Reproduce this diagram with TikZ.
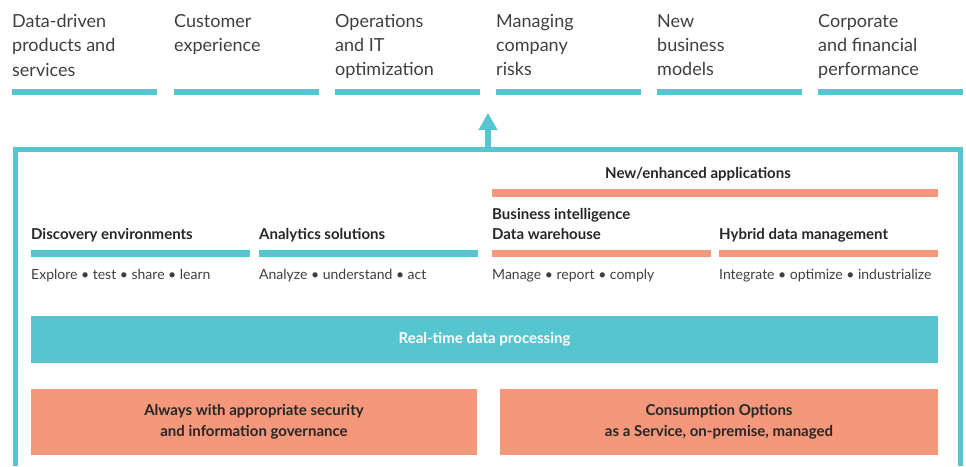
\documentclass[tikz,border=0pt]{standalone}
\usepackage{fontspec}
\setmainfont{Lato}
\usepackage{xcolor}
\usepackage{tikz}
\usetikzlibrary{arrows.meta}
\usetikzlibrary{positioning}

\definecolor{hpeteal}{HTML}{55C5D0}
\definecolor{hpesalmon}{HTML}{F5977A}
\definecolor{hpetext}{HTML}{3F3F3F}

\begin{document}
\begin{tikzpicture}[x=1pt,y=-1pt,
    toplabel/.style={anchor=north west, inner sep=0pt, align=left, text=hpetext, font=\fontsize{18}{24.3}\selectfont},
    head/.style={anchor=base west, inner sep=0pt, text=black!85, font=\fontsize{15}{20}\selectfont\bfseries},
    verbs/.style={anchor=base west, inner sep=0pt, text=hpetext, font=\fontsize{14}{20}\selectfont},
    layer/.style={inner sep=0pt, outer sep=0pt, align=center, font=\fontsize{15}{21}\selectfont\bfseries}]
    \path[use as bounding box] (0,0) rectangle (966,466);
    % business outcomes along the top
    \foreach \x/\name/\txt in {12/dpro/{Data-driven\\products and\\services}, 174/cexp/{Customer\\experience}, 335/opit/{Operations\\and IT\\optimization}, 496/risk/{Managing\\company\\risks}, 657/newbm/{New\\business\\models}, 818/corp/{Corporate\\and financial\\performance}}
    {
        \node[toplabel] (\name) at (\x,14) {\txt};
        \fill[hpeteal] (\x,89) rectangle ++(145,6);
    }
    % frame and arrow up
    \draw[hpeteal, line width=5pt] (15.5,466) -- (15.5,149) -- (960,149) -- (960,466);
    \coordinate (arrowbase) at (488,149);
    \coordinate (arrowtip) at (488,113);
    \draw[hpeteal, line width=6pt, -{Triangle[width=18pt,length=17pt]}] (arrowbase) -- (arrowtip);
    % applications
    \node[head, anchor=base] (newapp) at (698,178) {New/enhanced applications};
    \fill[hpesalmon] (492,189) rectangle (938,196.5);
    \node[head] (bi) at (492,219) {Business intelligence};
    \foreach \x/\col/\name/\title/\what in {31/hpeteal/disc/{Discovery environments}/{Explore • test • share • learn}, 259/hpeteal/anly/{Analytics solutions}/{Analyze • understand • act}, 492/hpesalmon/dwh/{Data warehouse}/{Manage • report • comply}, 719/hpesalmon/hybr/{Hybrid data management}/{Integrate • optimize • industrialize}}
    {
        \node[head] (\name) at (\x,239) {\title};
        \fill[\col] (\x,249.5) rectangle ++(218.5,7.5);
        \node[verbs] (\name-v) at (\x,279) {\what};
    }
    % platform layers
    \node[layer, fill=hpeteal, text=white, minimum width=907pt, minimum height=47pt] (rtdp) at (484.5,339.5) {Real-time data processing};
    \node[layer, fill=hpesalmon, text=black!85, minimum width=446pt, minimum height=66pt] (secu) at (254,422) {Always with appropriate security\\and information governance};
    \node[layer, fill=hpesalmon, text=black!85, minimum width=438pt, minimum height=66pt] (cons) at (719,422) {Consumption Options\\as a Service, on-premise, managed};
\end{tikzpicture}
\end{document}
